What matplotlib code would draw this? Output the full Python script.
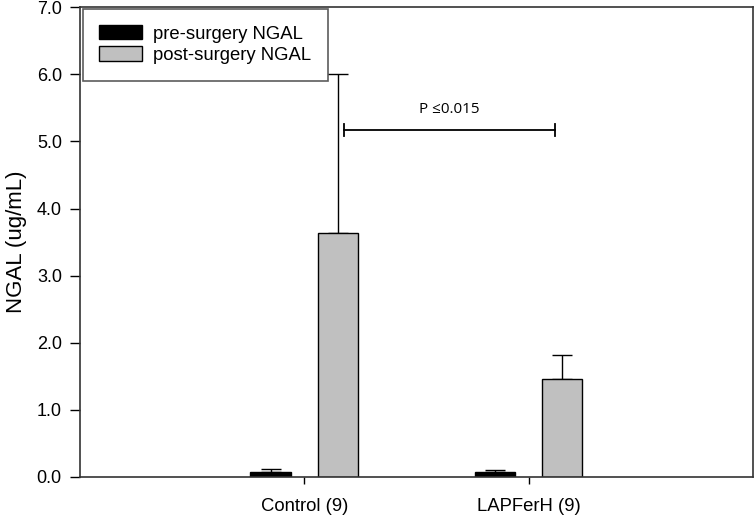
import numpy as np
import matplotlib.pyplot as plt

# values
groups = ['Control (9)', 'LAPFerH (9)']
pre_mean = [0.07, 0.07]
pre_err = [0.05, 0.04]
post_mean = [3.64, 1.46]
post_err = [2.37, 0.36]
p_text = 'P \u22640.015'
p_level = 5.17

x = np.array([1, 2])
offset = 0.15
width = 0.18

fig = plt.figure(figsize=(7.54, 5.15), dpi=100)
ax = fig.add_axes([0.106, 0.074, 0.8925, 0.912])

ax.bar(x - offset, pre_mean, width, color='black', edgecolor='black',
       linewidth=1, label='pre-surgery NGAL', zorder=2)
ax.bar(x + offset, post_mean, width, color='#c0c0c0', edgecolor='black',
       linewidth=1, label='post-surgery NGAL', zorder=2)

# upper error bars only
ax.errorbar(x - offset, pre_mean, yerr=[np.zeros(2), pre_err], fmt='none',
            ecolor='black', elinewidth=1, capsize=7, capthick=1, zorder=1)
ax.errorbar(x + offset, post_mean, yerr=[np.zeros(2), post_err], fmt='none',
            ecolor='black', elinewidth=1, capsize=7, capthick=1, zorder=1)

# significance bracket
bx0, bx1 = 1.178, 2.116
ax.plot([bx0, bx1], [p_level, p_level], color='black', lw=1.3)
ax.plot([bx0, bx0], [p_level - 0.09, p_level + 0.09], color='black', lw=1.3)
ax.plot([bx1, bx1], [p_level - 0.09, p_level + 0.09], color='black', lw=1.3)
ax.text((bx0 + bx1) / 2, p_level + 0.2, p_text, ha='center', va='bottom',
        fontsize=11, family=['Open Sans', 'DejaVu Sans'])

ax.set_xlim(0, 3)
ax.set_ylim(0, 7)
ax.set_xticks(x)
ax.set_xticklabels(groups, fontsize=13.3, family='Liberation Sans')
ax.set_yticks(np.arange(0, 7.5, 1.0))
ax.set_yticklabels(['%.1f' % v for v in np.arange(0, 7.5, 1.0)],
                   fontsize=13, family='Liberation Sans')
ax.tick_params(axis='y', direction='out', length=7, width=1, pad=6)
ax.tick_params(axis='x', direction='out', length=5, width=1, pad=10)
ax.set_ylabel('NGAL (ug/mL)', fontsize=16, family='Liberation Sans', labelpad=7)

for s in ax.spines.values():
    s.set_linewidth(1.2)
    s.set_color('#333333')

leg = ax.legend(loc='upper left', bbox_to_anchor=(0.004, 0.997), frameon=True,
                fancybox=False, edgecolor='#333333',
                prop={'family': 'Liberation Sans', 'size': 13.3},
                handlelength=2.3, handleheight=0.8, borderpad=0.9,
                labelspacing=0.2, borderaxespad=0, handletextpad=0.6)
leg.get_frame().set_linewidth(1.2)

fig.savefig('out.png', dpi=100)
